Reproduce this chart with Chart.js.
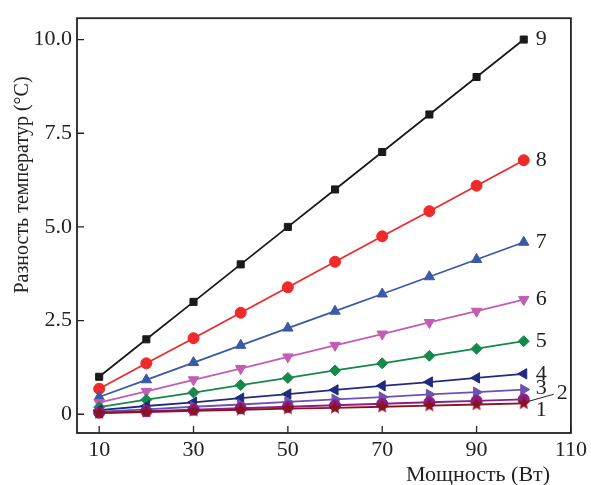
<!DOCTYPE html>
<html>
<head>
<meta charset="utf-8">
<script src="https://cdn.jsdelivr.net/npm/chart.js@4"></script>
<style>
  html, body { margin: 0; padding: 0; background: #fff; }
  #wrap { width: 591px; height: 485px; }
</style>
</head>
<body>
<div id="wrap"><canvas id="chart" width="591" height="485"></canvas></div>
<script>
// power, W
const power = [10, 20, 30, 40, 50, 60, 70, 80, 90, 100];

// temperature difference, °C (curves 1..9)
const curve1 = [0.03, 0.06, 0.09, 0.12, 0.15, 0.17, 0.20, 0.23, 0.26, 0.29];
const curve2 = [0.04, 0.08, 0.12, 0.16, 0.20, 0.24, 0.28, 0.32, 0.36, 0.40];
const curve3 = [0.07, 0.13, 0.20, 0.26, 0.33, 0.40, 0.46, 0.53, 0.59, 0.66];
const curve4 = [0.11, 0.22, 0.32, 0.43, 0.54, 0.65, 0.76, 0.86, 0.97, 1.08];
const curve5 = [0.19, 0.39, 0.58, 0.78, 0.97, 1.17, 1.36, 1.56, 1.75, 1.95];
const curve6 = [0.31, 0.61, 0.92, 1.22, 1.53, 1.84, 2.14, 2.45, 2.75, 3.06];
const curve7 = [0.46, 0.92, 1.38, 1.84, 2.30, 2.75, 3.21, 3.67, 4.13, 4.59];
const curve8 = [0.68, 1.36, 2.03, 2.71, 3.39, 4.07, 4.75, 5.42, 6.10, 6.78];
const curve9 = [1.0, 2.0, 3.0, 4.0, 5.0, 6.0, 7.0, 8.0, 9.0, 10.0];

const curveNames = ['1', '2', '3', '4', '5', '6', '7', '8', '9'];
const xTicks = [10, 30, 50, 70, 90, 110];
const yTicks = [0, 2.5, 5.0, 7.5, 10.0];

const serif = '"Liberation Serif", "DejaVu Serif", serif';
const ink = '#222';

// filled star marker
function starMarker(color, r) {
  const c = document.createElement('canvas');
  c.width = c.height = r * 2 + 2;
  const g = c.getContext('2d');
  g.beginPath();
  for (let i = 0; i < 10; i++) {
    const rad = i % 2 === 0 ? r : r * 0.45;
    const a = -Math.PI / 2 + i * Math.PI / 5;
    const px = r + 1 + rad * Math.cos(a);
    const py = r + 1 + rad * Math.sin(a);
    if (i === 0) g.moveTo(px, py); else g.lineTo(px, py);
  }
  g.closePath();
  g.fillStyle = color;
  g.fill();
  return c;
}

function series(data, color, style, rotation, radius) {
  return {
    data: data,
    borderColor: color,
    backgroundColor: color,
    borderWidth: 1.8,
    pointStyle: style,
    rotation: rotation || 0,
    pointRadius: radius || 5,
    pointBorderWidth: 1,
    pointHoverRadius: radius || 5,
    tension: 0
  };
}

const datasets = [
  series(curve1, '#8a1222', starMarker('#8a1222', 7)),
  series(curve2, '#8b1f82', 'circle', 0, 5.5),
  series(curve3, '#6c52b4', 'triangle', 90, 6),
  series(curve4, '#222a7e', 'triangle', -90, 6),
  series(curve5, '#16884a', 'rectRot', 0, 5.5),
  series(curve6, '#c25cb4', 'triangle', 180, 6),
  series(curve7, '#3a5aa8', 'triangle', 0, 6),
  series(curve8, '#ee2a2a', 'circle', 0, 5.5),
  series(curve9, '#1a1a1a', 'rect', 0, 5)
];

const frame = {
  id: 'frame',
  afterDraw(chart) {
    const ctx = chart.ctx;
    const a = chart.chartArea;
    const xs = chart.scales.x, ys = chart.scales.y;
    ctx.save();
    ctx.strokeStyle = ink;
    ctx.lineWidth = 1.8;
    ctx.strokeRect(a.left, a.top, a.right - a.left, a.bottom - a.top);
    ctx.lineWidth = 1.3;
    ctx.beginPath();
    xTicks.forEach(v => {
      const px = xs.getPixelForValue(v);
      ctx.moveTo(px, a.bottom);
      ctx.lineTo(px, a.bottom - 7);
    });
    yTicks.forEach(v => {
      const py = ys.getPixelForValue(v);
      ctx.moveTo(a.left, py);
      ctx.lineTo(a.left + 7, py);
    });
    ctx.stroke();

    // curve numbers
    ctx.fillStyle = ink;
    ctx.font = '22px ' + serif;
    ctx.textBaseline = 'middle';
    ctx.textAlign = 'left';
    const last = power.length - 1;
    const dy = [7, 0, -1, 0, 0, 0, 0, 0, 0];
    chart.data.datasets.forEach((ds, i) => {
      const px = xs.getPixelForValue(power[last]);
      const py = ys.getPixelForValue(ds.data[last]);
      if (i === 1) {
        ctx.beginPath();
        ctx.lineWidth = 1;
        ctx.moveTo(px + 5, py + 2);
        ctx.lineTo(px + 30, py - 5);
        ctx.stroke();
        ctx.fillText(curveNames[i], px + 33, py - 6);
      } else {
        ctx.fillText(curveNames[i], px + 12, py + dy[i]);
      }
    });

    // axis titles
    ctx.textAlign = 'center';
    ctx.font = '22px ' + serif;
    ctx.fillText('Мощность (Вт)', 478, 475);
    ctx.font = '20px ' + serif;
    ctx.translate(23, 185);
    ctx.rotate(-Math.PI / 2);
    ctx.fillText('Разность температур (°C)', 0, 0);
    ctx.restore();
  }
};

new Chart(document.getElementById('chart'), {
  type: 'line',
  data: { labels: power, datasets: datasets },
  options: {
    responsive: false,
    animation: false,
    layout: { padding: { left: 0, right: 18, top: 13, bottom: 0 } },
    plugins: {
      legend: { display: false },
      tooltip: { enabled: false }
    },
    scales: {
      x: {
        type: 'linear',
        min: 5.3,
        max: 110,
        afterBuildTicks: s => { s.ticks = xTicks.map(v => ({ value: v })); },
        afterFit: s => { s.height = 52; },
        grid: { display: false, drawTicks: false },
        border: { display: false },
        ticks: {
          color: ink,
          padding: 4,
          maxRotation: 0,
          font: { family: serif, size: 22 }
        }
      },
      y: {
        min: -0.5,
        max: 10.57,
        afterBuildTicks: s => { s.ticks = yTicks.map(v => ({ value: v })); },
        afterFit: s => { s.width = 77; },
        grid: { display: false, drawTicks: false },
        border: { display: false },
        ticks: {
          color: ink,
          padding: 5,
          font: { family: serif, size: 22 },
          callback: v => v === 0 ? '0' : v.toFixed(1)
        }
      }
    }
  },
  plugins: [frame]
});
</script>
</body>
</html>
